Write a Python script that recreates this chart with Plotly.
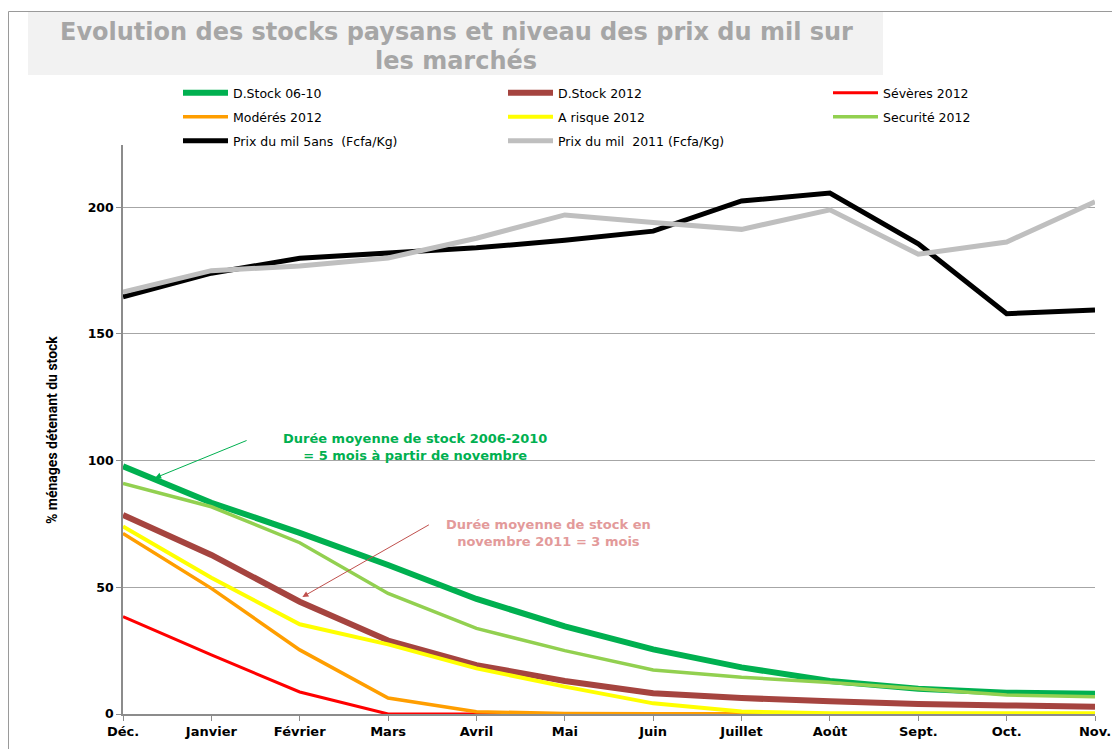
import plotly.graph_objects as go

mois = ["Déc.", "Janvier", "Février", "Mars", "Avril", "Mai", "Juin",
        "Juillet", "Août", "Sept.", "Oct.", "Nov."]

dstock_0610 = [97.8, 83.4, 71.5, 58.8, 45.4, 34.6, 25.5, 18.4, 13.0, 10.0, 8.4, 8.0]
dstock_2012 = [78.6, 62.8, 44.3, 29.0, 19.3, 13.0, 8.2, 6.3, 5.0, 3.9, 3.4, 2.9]
severes_2012 = [38.4, 23.3, 8.7, 0, 0, 0, 0, 0, 0, 0, 0, 0]
moderes_2012 = [71.3, 49.6, 25.3, 6.3, 0.9, 0.2, 0.1, 0, 0, 0, 0, 0]
arisque_2012 = [74.0, 53.8, 35.4, 27.5, 18.0, 10.8, 4.2, 1.0, 0.3, 0.3, 0.3, 0.3]
securite_2012 = [91.0, 81.8, 67.6, 47.6, 33.8, 25.0, 17.4, 14.5, 12.4, 9.8, 7.5, 6.8]
prix_5ans = [164.7, 174.0, 179.9, 181.8, 184.0, 187.0, 190.6, 202.5, 205.6, 185.6, 158.0, 159.5]
prix_2011 = [166.5, 175.0, 176.8, 180.0, 187.8, 197.0, 194.0, 191.3, 199.0, 181.5, 186.3, 202.2]

# name, values, colour, width, legend row
series = [
    ("D.Stock 06-10", dstock_0610, "#00B050", 6, "legend"),
    ("D.Stock 2012", dstock_2012, "#A5443F", 6, "legend"),
    ("Sévères 2012", severes_2012, "#FF0000", 3, "legend"),
    ("Modérés 2012", moderes_2012, "#FF9E00", 3.5, "legend2"),
    ("A risque 2012", arisque_2012, "#FFFF00", 4, "legend2"),
    ("Securité 2012", securite_2012, "#92D050", 3.5, "legend2"),
    ("Prix du mil 5ans  (Fcfa/Kg)", prix_5ans, "#000000", 5, "legend3"),
    ("Prix du mil  2011 (Fcfa/Kg)", prix_2011, "#BFBFBF", 5, "legend3"),
]

# page body has an 8px margin, so work in screen pixels minus that offset
OFF = 8
W, H = 1120, 749
L, R, T, B = 123 - OFF, 1095 - OFF, 145 - OFF, 714 - OFF


def px_x(p):
    return (p - OFF - L) / (R - L)


def px_y(p):
    return (B - (p - OFF)) / (B - T)


fig = go.Figure()
for name, vals, col, w, lg in series:
    fig.add_trace(go.Scatter(x=mois, y=vals, mode="lines", name=name, legend=lg,
                             line=dict(color=col, width=w)))

# title box
fig.add_shape(type="rect", xref="paper", yref="paper",
              x0=px_x(28), x1=px_x(883), y0=px_y(75), y1=px_y(12),
              fillcolor="#F2F2F2", line=dict(width=0), layer="below")
# outer frame
fig.add_shape(type="rect", xref="paper", yref="paper",
              x0=px_x(8.5), x1=px_x(1140), y0=px_y(770), y1=px_y(11.5),
              line=dict(color="#9A9A9A", width=1), fillcolor="rgba(0,0,0,0)")

title_font = dict(family="DejaVu Sans", size=24, color="#A6A6A6", weight="bold")
fig.add_annotation(xref="paper", yref="paper", x=px_x(456), y=px_y(32),
                   text="Evolution des stocks paysans et niveau des prix du mil sur",
                   showarrow=False, xanchor="center", yanchor="middle", font=title_font)
fig.add_annotation(xref="paper", yref="paper", x=px_x(456), y=px_y(61),
                   text="les marchés",
                   showarrow=False, xanchor="center", yanchor="middle", font=title_font)

ann_font = dict(family="DejaVu Sans", size=13, weight="bold")
fig.add_annotation(x=3.31, y=105.4, xref="x", yref="y",
                   text="Durée moyenne de stock 2006-2010<br>= 5 mois à partir de novembre",
                   showarrow=False, font=dict(ann_font, color="#00B050"))
fig.add_annotation(x=0.363, y=93.2, xref="x", yref="y", text="",
                   showarrow=True, ax=93, ay=-38, arrowhead=2, arrowsize=1.2,
                   arrowwidth=1, arrowcolor="#00B050")
fig.add_annotation(x=4.82, y=71.5, xref="x", yref="y",
                   text="Durée moyenne de stock en<br>novembre 2011 = 3 mois",
                   showarrow=False, font=dict(ann_font, color="#E39A9A"))
fig.add_annotation(x=2.03, y=46.2, xref="x", yref="y", text="",
                   showarrow=True, ax=128, ay=-73, arrowhead=2, arrowsize=1.2,
                   arrowwidth=1, arrowcolor="#C0504D")

fig.add_annotation(xref="paper", yref="paper", x=px_x(42), y=px_y(430),
                   text="% ménages détenant du stock", textangle=-90, showarrow=False,
                   font=dict(family="Roboto", size=14, color="#000000", weight="bold"))

legend_style = dict(orientation="h", x=px_x(178), xanchor="left", yanchor="middle",
                    entrywidth=265, entrywidthmode="pixels", itemwidth=45,
                    font=dict(family="DejaVu Sans", size=12.5, color="#000000"),
                    bgcolor="rgba(0,0,0,0)")

fig.update_layout(
    width=W, height=H,
    margin=dict(l=L, r=W - R, t=T, b=H - B, autoexpand=False),
    paper_bgcolor="white", plot_bgcolor="white",
    showlegend=True,
    legend=dict(legend_style, y=px_y(93)),
    legend2=dict(legend_style, y=px_y(117)),
    legend3=dict(legend_style, y=px_y(141)),
    xaxis=dict(type="category", range=[0, 11], showgrid=False,
               showline=True, linecolor="#8C8C8C", linewidth=1.5,
               ticks="outside", ticklen=5, tickcolor="#8C8C8C",
               tickfont=dict(family="DejaVu Sans", size=13, color="#000000", weight="bold")),
    yaxis=dict(range=[0, 224.6], tickvals=[0, 50, 100, 150, 200],
               showgrid=True, gridcolor="#A6A6A6", gridwidth=1,
               showline=True, linecolor="#8C8C8C", linewidth=1.5,
               ticks="outside", ticklen=5, tickcolor="#8C8C8C", zeroline=False,
               tickfont=dict(family="DejaVu Sans", size=12.5, color="#000000", weight="bold")),
)

fig.write_html("out.html")
